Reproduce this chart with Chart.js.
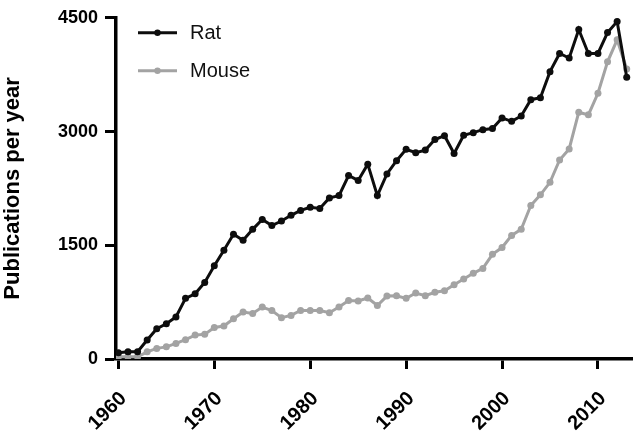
<!DOCTYPE html>
<html>
<head>
<meta charset="utf-8">
<script src="https://cdn.jsdelivr.net/npm/chart.js@4.4.1/dist/chart.umd.min.js"></script>
<style>
  html, body { margin: 0; padding: 0; background: #ffffff; }
  #wrap { width: 638px; height: 437px; position: relative; }
</style>
</head>
<body>
<div id="wrap"><canvas id="c" width="638" height="437"></canvas></div>
<script>
// ---- Data ----
const years = [1960,1961,1962,1963,1964,1965,1966,1967,1968,1969,
               1970,1971,1972,1973,1974,1975,1976,1977,1978,1979,
               1980,1981,1982,1983,1984,1985,1986,1987,1988,1989,
               1990,1991,1992,1993,1994,1995,1996,1997,1998,1999,
               2000,2001,2002,2003,2004,2005,2006,2007,2008,2009,
               2010,2011,2012,2013];
const ratValues = [82,95,95,250,400,465,555,800,860,1010,
                   1230,1435,1645,1565,1710,1840,1760,1820,1895,1960,
                   2000,1985,2125,2155,2420,2355,2570,2155,2440,2615,
                   2765,2720,2755,2895,2945,2710,2950,2985,3025,3040,
                   3180,3135,3205,3420,3445,3790,4030,3970,4345,4030,
                   4030,4305,4450,3715];
const mouseValues = [30,30,30,95,140,160,205,255,315,325,
                     415,435,530,620,600,685,640,545,575,640,
                     640,640,610,685,770,765,805,705,830,835,
                     800,870,835,880,900,980,1055,1130,1195,1380,
                     1470,1630,1710,2025,2165,2330,2625,2770,3255,3220,
                     3505,3920,4210,3825];
const seriesNames = ["Rat", "Mouse"];
const xTickYears = [1960, 1970, 1980, 1990, 2000, 2010];
const yTickValues = [0, 1500, 3000, 4500];
const yTitle = "Publications per year";

const RAT_COLOR = "#0d0d0d";
const MOUSE_COLOR = "#a3a3a3";

const toPoints = (vals) => years.map((y, i) => ({ x: y, y: vals[i] }));

// custom legend drawn inside the plot area (line + dot + label)
const insideLegend = {
  id: 'insideLegend',
  afterDraw(chart) {
    const ctx = chart.ctx;
    const area = chart.chartArea;
    const items = chart.data.datasets;
    ctx.save();
    items.forEach((ds, i) => {
      const cy = area.top + 15 + i * 38;
      const x0 = area.left + 22;
      const x1 = x0 + 39;
      ctx.strokeStyle = ds.borderColor;
      ctx.lineWidth = 3;
      ctx.beginPath();
      ctx.moveTo(x0, cy);
      ctx.lineTo(x1, cy);
      ctx.stroke();
      ctx.fillStyle = ds.pointBackgroundColor;
      ctx.beginPath();
      ctx.arc((x0 + x1) / 2, cy, 3.2, 0, Math.PI * 2);
      ctx.fill();
      ctx.fillStyle = "#111111";
      ctx.font = "20px 'Liberation Sans', Arial, sans-serif";
      ctx.textBaseline = "middle";
      ctx.textAlign = "left";
      ctx.fillText(ds.label, x1 + 13, cy + 1);
    });
    ctx.restore();
  }
};

const yTickFont = { family: "'Liberation Sans', Arial, sans-serif", size: 18, weight: 'bold' };
const xTickFont = { family: "'Liberation Sans', Arial, sans-serif", size: 20, weight: 'bold' };

new Chart(document.getElementById('c'), {
  type: 'line',
  data: {
    datasets: [
      {
        label: seriesNames[0],
        data: toPoints(ratValues),
        borderColor: RAT_COLOR,
        backgroundColor: RAT_COLOR,
        pointBackgroundColor: RAT_COLOR,
        pointBorderColor: RAT_COLOR,
        borderWidth: 3,
        pointRadius: 3.5,
        pointBorderWidth: 0,
        tension: 0
      },
      {
        label: seriesNames[1],
        data: toPoints(mouseValues),
        borderColor: MOUSE_COLOR,
        backgroundColor: MOUSE_COLOR,
        pointBackgroundColor: MOUSE_COLOR,
        pointBorderColor: MOUSE_COLOR,
        borderWidth: 3,
        pointRadius: 3.5,
        pointBorderWidth: 0,
        tension: 0
      }
    ]
  },
  options: {
    responsive: false,
    animation: false,
    devicePixelRatio: 1,
    layout: { padding: { top: 13, right: 6, left: 0, bottom: 0 } },
    plugins: {
      legend: { display: false },
      tooltip: { enabled: false }
    },
    scales: {
      x: {
        type: 'linear',
        min: 1959.75,
        max: 2013.55,
        afterBuildTicks: (scale) => { scale.ticks = xTickYears.map(v => ({ value: v })); },
        afterFit: (scale) => { scale.height = 78; },
        border: { display: true, color: '#000000', width: 3.5 },
        grid: { display: true, drawOnChartArea: false, drawTicks: true, tickLength: 10, tickWidth: 3, tickColor: '#000000' },
        ticks: {
          color: '#000000',
          font: xTickFont,
          minRotation: 45,
          maxRotation: 45,
          padding: 18,
          labelOffset: 5,
          autoSkip: false,
          callback: (v) => String(v)
        }
      },
      y: {
        min: 0,
        max: 4500,
        afterBuildTicks: (scale) => { scale.ticks = yTickValues.map(v => ({ value: v })); },
        afterFit: (scale) => { scale.width = 116; },
        border: { display: true, color: '#000000', width: 3.5 },
        grid: { display: true, drawOnChartArea: false, drawTicks: true, tickLength: 11, tickWidth: 3, tickColor: '#000000' },
        ticks: {
          color: '#000000',
          font: yTickFont,
          padding: 7,
          callback: (v) => String(v)
        },
        title: {
          display: true,
          text: yTitle,
          color: '#000000',
          font: { family: "'Liberation Sans', Arial, sans-serif", size: 22, weight: 'bold' },
          padding: { top: 0, bottom: 0 }
        }
      }
    }
  },
  plugins: [insideLegend]
});
</script>
</body>
</html>
